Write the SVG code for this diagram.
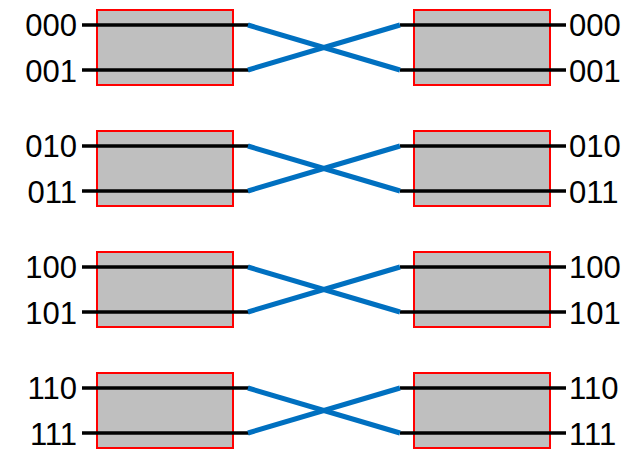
<svg xmlns="http://www.w3.org/2000/svg" width="637" height="449" viewBox="0 0 637 449">
  <defs>
    <style>
      .box { fill: #BFBFBF; stroke: #FF0000; stroke-width: 2; }
      .wire { stroke: #000000; stroke-width: 3.5; fill: none; }
      .cross { stroke: #0070C0; stroke-width: 5; fill: none; }
      .lbl { font-family: "Liberation Sans", Arial, sans-serif; font-size: 31px; fill: #000000; }
      .l { text-anchor: end; }
      .r { text-anchor: start; }
    </style>
  </defs>
  <rect width="637" height="449" fill="#FFFFFF"/>

  <!-- stage boxes -->
  <g id="box-left-0"><rect class="box" x="97" y="10" width="136" height="75"/></g>
  <g id="box-right-0"><rect class="box" x="414" y="10" width="136" height="75"/></g>
  <g id="box-left-1"><rect class="box" x="97" y="131" width="136" height="75"/></g>
  <g id="box-right-1"><rect class="box" x="414" y="131" width="136" height="75"/></g>
  <g id="box-left-2"><rect class="box" x="97" y="252" width="136" height="75"/></g>
  <g id="box-right-2"><rect class="box" x="414" y="252" width="136" height="75"/></g>
  <g id="box-left-3"><rect class="box" x="97" y="373" width="136" height="75"/></g>
  <g id="box-right-3"><rect class="box" x="414" y="373" width="136" height="75"/></g>

  <!-- connectors: wires through boxes and crossovers -->
  <g id="connectors">
    <g class="wire">
      <line x1="82" y1="25" x2="249" y2="25"/><line x1="82" y1="70" x2="249" y2="70"/>
      <line x1="400" y1="25" x2="566" y2="25"/><line x1="400" y1="70" x2="566" y2="70"/>
      <line x1="82" y1="146" x2="249" y2="146"/><line x1="82" y1="191" x2="249" y2="191"/>
      <line x1="400" y1="146" x2="566" y2="146"/><line x1="400" y1="191" x2="566" y2="191"/>
      <line x1="82" y1="267" x2="249" y2="267"/><line x1="82" y1="312" x2="249" y2="312"/>
      <line x1="400" y1="267" x2="566" y2="267"/><line x1="400" y1="312" x2="566" y2="312"/>
      <line x1="82" y1="388" x2="249" y2="388"/><line x1="82" y1="433" x2="249" y2="433"/>
      <line x1="400" y1="388" x2="566" y2="388"/><line x1="400" y1="433" x2="566" y2="433"/>
    </g>
    <g class="cross">
      <line x1="248" y1="25" x2="400" y2="70"/><line x1="248" y1="70" x2="400" y2="25"/>
      <line x1="248" y1="146" x2="400" y2="191"/><line x1="248" y1="191" x2="400" y2="146"/>
      <line x1="248" y1="267" x2="400" y2="312"/><line x1="248" y1="312" x2="400" y2="267"/>
      <line x1="248" y1="388" x2="400" y2="433"/><line x1="248" y1="433" x2="400" y2="388"/>
    </g>
  </g>

  <!-- input labels -->
  <g id="labels-left" class="lbl l">
    <text x="77" y="36">000</text><text x="77" y="81.5">001</text>
    <text x="77" y="157">010</text><text x="77" y="202.5">011</text>
    <text x="77" y="278">100</text><text x="77" y="323.5">101</text>
    <text x="77" y="399">110</text><text x="77" y="444.5">111</text>
  </g>
  <!-- output labels -->
  <g id="labels-right" class="lbl r">
    <text x="569" y="36">000</text><text x="569" y="81.5">001</text>
    <text x="569" y="157">010</text><text x="569" y="202.5">011</text>
    <text x="569" y="278">100</text><text x="569" y="323.5">101</text>
    <text x="569" y="399">110</text><text x="569" y="444.5">111</text>
  </g>
</svg>
